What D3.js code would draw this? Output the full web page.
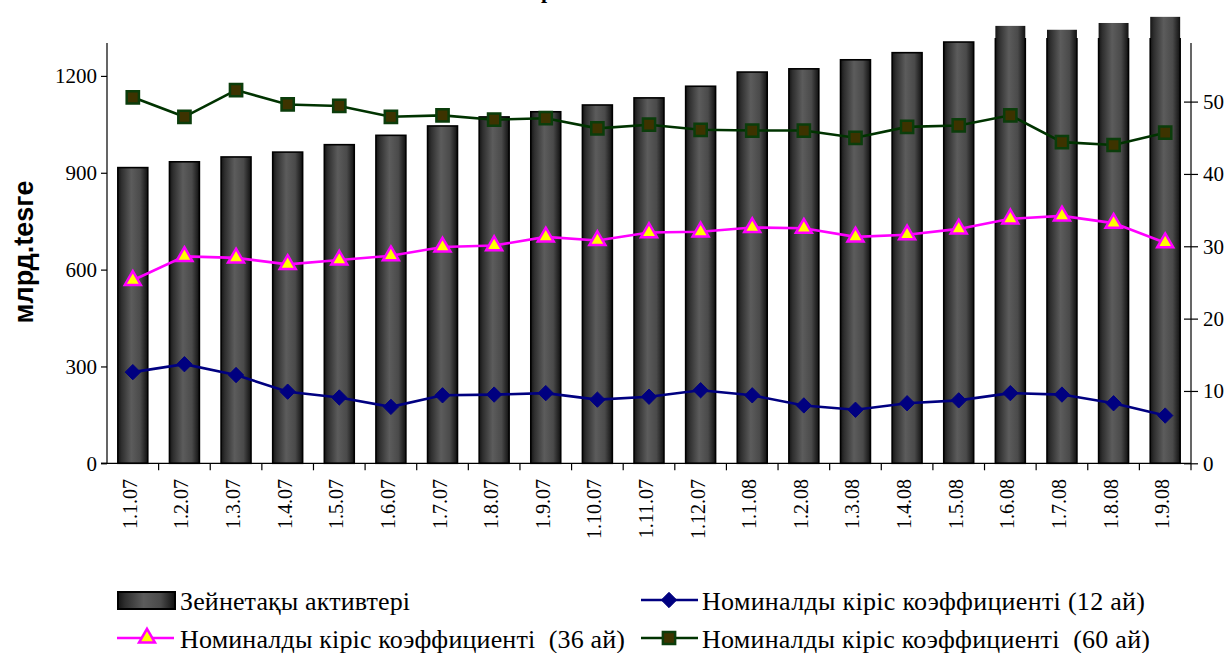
<!DOCTYPE html>
<html>
<head>
<meta charset="utf-8">
<script src="https://cdn.jsdelivr.net/npm/d3@7"></script>
<style>
  body { margin: 0; background: #fff; }
  svg { display: block; }
  .serif { font-family: 'Liberation Serif', 'Times New Roman', Times, Tinos, 'DejaVu Serif', 'Noto Serif', FreeSerif, serif; }
</style>
</head>
<body>
<div class="graph-main"></div>
<script>
// data
const months = ['1.1.07','1.2.07','1.3.07','1.4.07','1.5.07','1.6.07','1.7.07','1.8.07','1.9.07','1.10.07','1.11.07','1.12.07',
  '1.1.08','1.2.08','1.3.08','1.4.08','1.5.08','1.6.08','1.7.08','1.8.08','1.9.08']
const pensionAssets = [916,934,949,964,987,1016,1045,1073,1089,1110,1132,1168,1212,1222,1250,1272,1305,1355,1343,1364,1383]
const yield12 = [12.6,13.7,12.2,9.9,9.1,7.8,9.4,9.5,9.7,8.8,9.2,10.1,9.4,8.0,7.4,8.3,8.7,9.7,9.5,8.3,6.6]
const yield36 = [25.3,28.6,28.4,27.5,28.1,28.7,29.9,30.1,31.3,30.8,31.9,32.0,32.6,32.5,31.3,31.6,32.4,33.8,34.2,33.2,30.5]
const yield60 = [50.6,47.9,51.6,49.6,49.4,47.9,48.1,47.5,47.7,46.3,46.8,46.1,46.0,46.0,45.0,46.5,46.7,48.1,44.4,44.0,45.7]
const leftTicks = [0,300,600,900,1200]
const rightTicks = [0,10,20,30,40,50]
const legendNames = ['Зейнетақы активтері','Номиналды кіріс коэффициенті (12 ай)',
  'Номиналды кіріс коэффициенті  (36 ай)','Номиналды кіріс коэффициенті  (60 ай)']

const width = 1231
const height = 653
const plotL = 107, plotR = 1191, plotT = 43, plotB = 463.3

const svg = d3.select('.graph-main')
  .append('svg')
  .attr('width', width)
  .attr('height', height)

// gradient for the bars
const defs = svg.append('defs')
const grad = defs.append('linearGradient')
  .attr('id', 'barGrad')
  .attr('x1', '0%').attr('x2', '100%').attr('y1', '0%').attr('y2', '0%')
grad.selectAll('stop')
  .data([[0,'#141414'],[0.12,'#2e2e2e'],[0.45,'#5c5c5c'],[0.75,'#4a4a4a'],[1,'#101010']])
  .enter().append('stop')
  .attr('offset', d => d[0])
  .attr('stop-color', d => d[1])

defs.append('clipPath').attr('id', 'plotClip')
  .append('rect').attr('x', 0).attr('y', 38).attr('width', width).attr('height', height)

// scales
const xScale = d3.scaleBand().domain(months).range([plotL, plotR]).paddingInner(0.42).paddingOuter(0.21)
const xBound = d3.scaleBand().domain(months).range([plotL, plotR])
const yLeft = d3.scaleLinear().domain([0, 1302]).range([plotB, plotT])
const yRight = d3.scaleLinear().domain([0, 58.1]).range([plotB, plotT])

// bars
const bars = svg.append('g')
bars.selectAll('rect.fill')
  .data(pensionAssets)
  .enter().append('rect')
  .attr('class', 'fill')
  .attr('x', (d, i) => xScale(months[i]))
  .attr('width', xScale.bandwidth())
  .attr('y', d => yLeft(d))
  .attr('height', d => plotB - yLeft(d))
  .attr('fill', 'url(#barGrad)')
bars.selectAll('rect.edge')
  .data(pensionAssets)
  .enter().append('rect')
  .attr('class', 'edge')
  .attr('clip-path', 'url(#plotClip)')
  .attr('x', (d, i) => xScale(months[i]))
  .attr('width', xScale.bandwidth())
  .attr('y', d => yLeft(d))
  .attr('height', d => plotB - yLeft(d))
  .attr('fill', 'none')
  .attr('stroke', '#000')
  .attr('stroke-width', 1.6)

// axes
const yAxisL = d3.axisLeft(yLeft).tickValues(leftTicks).tickSize(6).tickPadding(4).tickFormat(d3.format('d'))
svg.append('g')
  .attr('transform', `translate(${plotL},0)`)
  .call(yAxisL)
  .call(g => g.select('.domain').attr('d', `M-6,${plotB}H0V${plotT}`))

const yAxisR = d3.axisRight(yRight).tickValues(rightTicks).tickSize(7).tickPadding(5)
svg.append('g')
  .attr('transform', `translate(${plotR},0)`)
  .call(yAxisR)
  .call(g => g.select('.domain').attr('d', `M0,${plotB}V${plotT}`))
  .call(g => g.selectAll('.tick line').attr('x1', -7))

const xAxis = d3.axisBottom(xBound).tickSize(7).tickFormat('')
svg.append('g')
  .attr('transform', `translate(0,${plotB})`)
  .call(xAxis)
  .call(g => g.select('.domain').attr('d', `M${plotL - 6},0H${plotR}`))
  .call(g => g.selectAll('.tick line').attr('transform', `translate(${xBound.bandwidth() / 2},0)`))

svg.selectAll('g').attr('font-family', null)
svg.selectAll('.tick text')
  .attr('class', 'serif')
  .attr('font-size', 21)
  .attr('fill', '#000')
svg.selectAll('.domain, .tick line').attr('stroke', '#000').attr('stroke-width', 1.2)

// x labels, rotated
svg.append('g').selectAll('text')
  .data(months)
  .enter().append('text')
  .attr('class', 'serif')
  .attr('transform', d => `translate(${xBound(d) + xBound.bandwidth() / 2 + 4},479) rotate(-90)`)
  .attr('text-anchor', 'end')
  .attr('font-size', 20)
  .text(d => d)

// axis title
svg.append('text')
  .attr('transform', 'translate(33,252) rotate(-90)')
  .attr('text-anchor', 'middle')
  .attr('font-family', "'Liberation Sans', Arial, sans-serif")
  .attr('font-weight', 'bold')
  .attr('font-size', 27)
  .text('млрд.tesге')

// title (cut off at top, as in the source)
svg.append('text')
  .attr('class', 'serif')
  .attr('x', 541).attr('y', -2)
  .attr('font-weight', 'bold')
  .attr('font-size', 22)
  .text('р')

// markers
const diamond = d3.symbol().type(d3.symbolDiamond2).size(150)
const triangle = d3.symbol().type(d3.symbolTriangle).size(110)
const square = d3.symbol().type(d3.symbolSquare).size(150)

const series = [
  { values: yield12, color: '#000080', sym: diamond, fill: '#000080', stroke: '#000080', sw: 1 },
  { values: yield36, color: '#ff00ff', sym: triangle, fill: '#ffff00', stroke: '#ff00ff', sw: 2.5 },
  { values: yield60, color: '#003300', sym: square, fill: '#3d3300', stroke: '#0b3d0b', sw: 2.5 }
]

const line = d3.line()
  .x((d, i) => xBound(months[i]) + xBound.bandwidth() / 2)
  .y(d => yRight(d))

series.forEach(s => {
  svg.append('path')
    .datum(s.values)
    .attr('d', line)
    .attr('fill', 'none')
    .attr('stroke', s.color)
    .attr('stroke-width', 2.6)
  svg.append('g').selectAll('path')
    .data(s.values)
    .enter().append('path')
    .attr('d', s.sym)
    .attr('transform', (d, i) => `translate(${xBound(months[i]) + xBound.bandwidth() / 2},${yRight(d)})`)
    .attr('fill', s.fill)
    .attr('stroke', s.stroke)
    .attr('stroke-width', s.sw)
})

// legend
const lg = svg.append('g')
lg.append('rect')
  .attr('x', 118).attr('y', 592).attr('width', 57).attr('height', 17)
  .attr('fill', 'url(#barGrad)').attr('stroke', '#000').attr('stroke-width', 2)

const legendPos = [[180, 610, 230], [702, 610, 443], [180, 648, 445], [702, 648, 448]]
legendNames.forEach((n, i) => {
  lg.append('text')
    .attr('class', 'serif')
    .attr('x', legendPos[i][0]).attr('y', legendPos[i][1])
    .attr('font-size', 26)
    .attr('textLength', legendPos[i][2])
    .attr('lengthAdjust', 'spacing')
    .style('white-space', 'pre')
    .text(n)
})

const legendLines = [[641, 600, 669, series[0]], [117, 638, 147, series[1]], [641, 638, 669, series[2]]]
legendLines.forEach(([x0, y, cx, s]) => {
  lg.append('line')
    .attr('x1', x0).attr('x2', x0 + 57).attr('y1', y).attr('y2', y)
    .attr('stroke', s.color).attr('stroke-width', 2.6)
  lg.append('path')
    .attr('d', s.sym)
    .attr('transform', `translate(${cx},${y})`)
    .attr('fill', s.fill).attr('stroke', s.stroke).attr('stroke-width', s.sw)
})
</script>
</body>
</html>
